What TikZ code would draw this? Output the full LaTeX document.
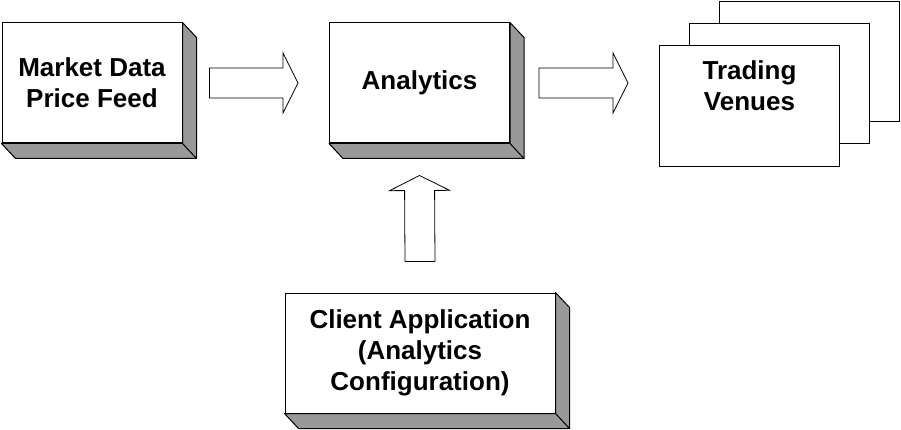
\documentclass[tikz,border=0pt]{standalone}
\usepackage{fontspec}
\setmainfont{Liberation Sans}
\usetikzlibrary{calc,positioning}
\definecolor{bevelgray}{HTML}{999999}

\begin{document}
\begin{tikzpicture}[x=1pt,y=1pt,
 box/.style={draw,fill=white,line width=1pt,minimum width=180pt,minimum height=120pt,
   align=center,inner sep=0pt,font=\fontsize{26}{31}\selectfont\bfseries},
 bevel/.style={fill=bevelgray,draw=black,line width=1pt,line join=round},
 fatarrow/.style={draw,fill=white,line width=0.8pt,line join=miter,to path={
   let \p1=(\tikztostart),\p2=(\tikztotarget),
       \n1={atan2(\y2-\y1,\x2-\x1)},\n2={veclen(\x2-\x1,\y2-\y1)} in
   ($(\p1)+(\n1+90:15pt)$)
   -- ($(\p1)+(\n1:\n2-15pt)+(\n1+90:15pt)$)
   -- ($(\p1)+(\n1:\n2-15pt)+(\n1+90:30pt)$)
   -- (\p2)
   -- ($(\p1)+(\n1:\n2-15pt)+(\n1-90:30pt)$)
   -- ($(\p1)+(\n1:\n2-15pt)+(\n1-90:15pt)$)
   -- ($(\p1)+(\n1-90:15pt)$) -- cycle}}]
 \path[use as bounding box,fill=white] (0,0) rectangle (901,429);
 % blocks
 \node[box] (feed) at (92,346) {Market Data\\Price Feed};
 \node[box] (analytics) at (419.5,346) {Analytics};
 \node[box,minimum width=270pt] (client) at (420,76)
   {Client Application\\(Analytics\\Configuration)};
 \node[box] (venue3) at (809.5,367) {};
 \node[box] (venue2) at (779.5,345) {};
 \node[box] (venues) at (749.5,323) {Trading\\Venues\\\strut};
 % raised edges
 \foreach \b in {feed,analytics,client}{
   \path[bevel] (\b.north east) -- ++(14,-15) -- ($(\b.south east)+(14,-15)$)
     -- ($(\b.south west)+(14,-15)$) -- (\b.south west) -- (\b.south east) -- cycle;
   \draw[line width=1pt] (\b.south east) -- ++(14,-15);
 }
 % block arrows
 \draw[fatarrow] ([xshift=27pt]feed.east) to ([xshift=-31pt]analytics.west);
 \draw[fatarrow] ([xshift=29pt]analytics.east) to ($(venues.west |- analytics.east)+(-31,0)$);
 \draw[fatarrow] ([yshift=31pt]client.north) to ([yshift=-32pt]analytics.south);
\end{tikzpicture}
\end{document}
